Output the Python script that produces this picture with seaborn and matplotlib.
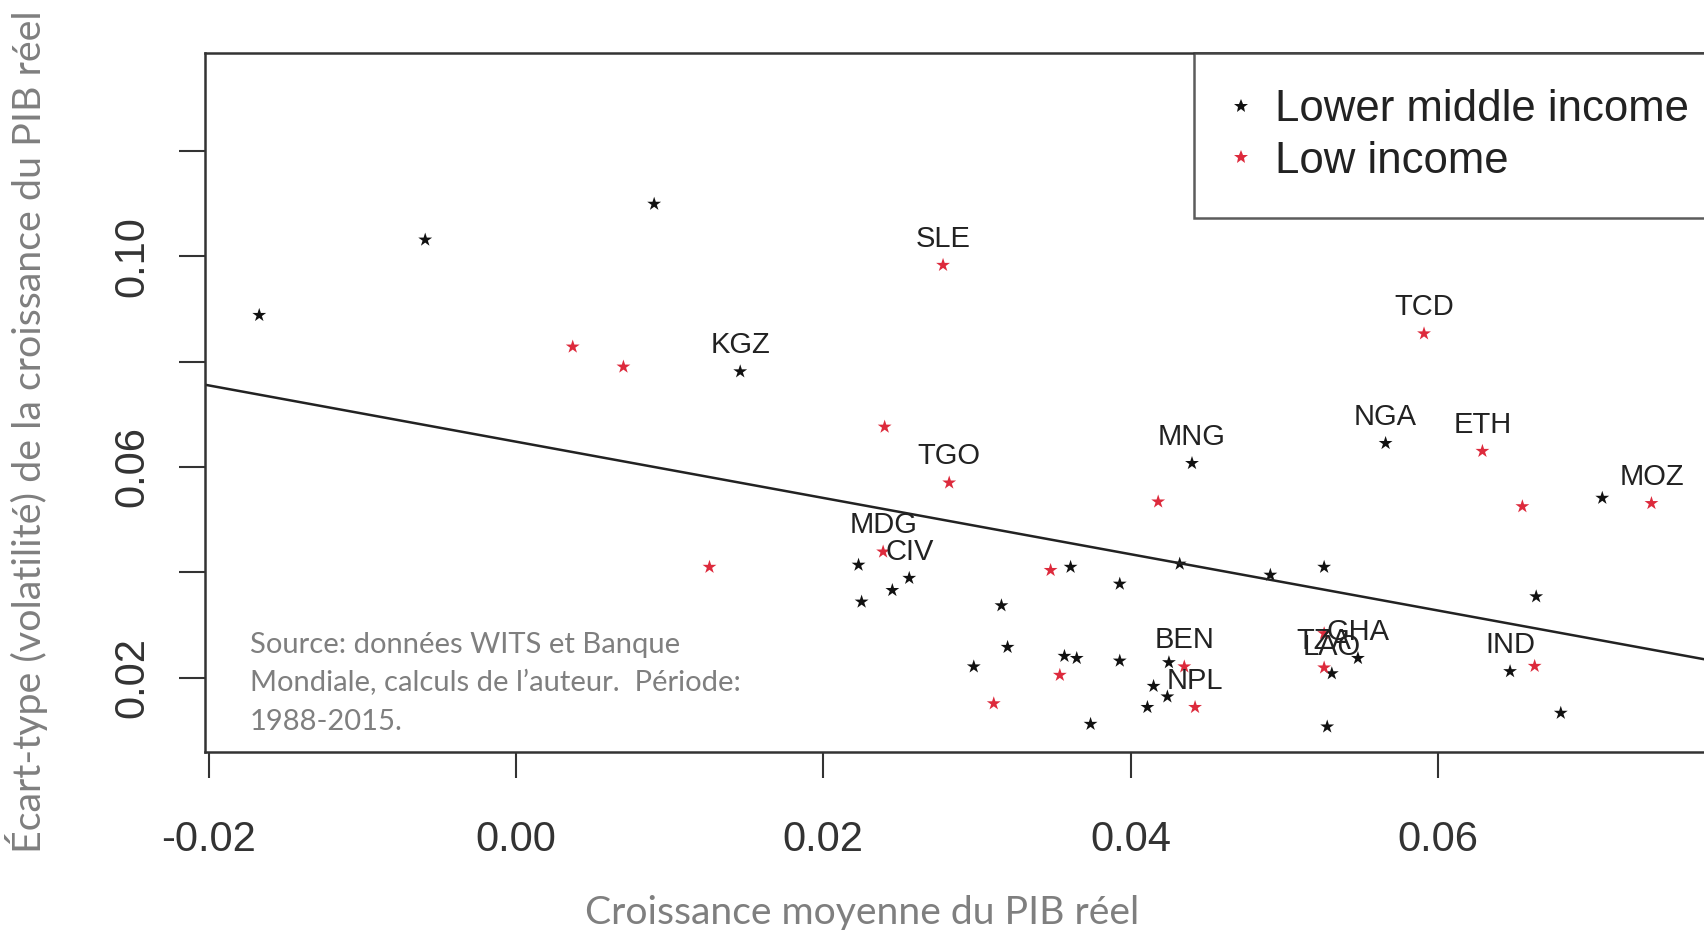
import numpy as np
import pandas as pd
import seaborn as sns
import matplotlib.pyplot as plt
from matplotlib.lines import Line2D

# pays "Lower middle income" (étoiles noires)
lmi_x = [-0.0167, -0.0059, 0.0090, 0.0146, 0.0223, 0.0225, 0.0245, 0.0256, 0.0316, 0.0298,
         0.0320, 0.0361, 0.0357, 0.0365, 0.0374, 0.0393, 0.0393, 0.0432, 0.0440, 0.0425,
         0.0415, 0.0424, 0.0411, 0.0491, 0.0526, 0.0528, 0.0531, 0.0548, 0.0566, 0.0647,
         0.0664, 0.0680, 0.0707]
lmi_y = [0.0888, 0.1031, 0.1099, 0.0781, 0.0414, 0.0344, 0.0366, 0.0389, 0.0337, 0.0221,
         0.0258, 0.0410, 0.0241, 0.0237, 0.0112, 0.0378, 0.0232, 0.0416, 0.0607, 0.0229,
         0.0184, 0.0164, 0.0144, 0.0395, 0.0410, 0.0107, 0.0208, 0.0237, 0.0645, 0.0212,
         0.0354, 0.0133, 0.0541]
lmi_code = ['', '', '', 'KGZ', '', '', '', 'CIV', '', '',
            '', '', '', '', '', '', '', '', 'MNG', '',
            '', '', '', '', '', '', 'LAO', 'GHA', 'NGA', 'IND',
            '', '', '']

# pays "Low income" (étoiles rouges)
low_x = [0.0037, 0.0070, 0.0126, 0.0278, 0.0240, 0.0282, 0.0239, 0.0311, 0.0348, 0.0354,
         0.0418, 0.0435, 0.0442, 0.0526, 0.0526, 0.0591, 0.0629, 0.0655, 0.0663, 0.0739]
low_y = [0.0828, 0.0790, 0.0410, 0.0983, 0.0676, 0.0570, 0.0439, 0.0151, 0.0404, 0.0205,
         0.0534, 0.0221, 0.0144, 0.0284, 0.0219, 0.0853, 0.0630, 0.0525, 0.0222, 0.0531]
low_code = ['', '', '', 'SLE', '', 'TGO', 'MDG', '', '', '',
            '', 'BEN', 'NPL', '', 'TZA', 'TCD', 'ETH', '', '', 'MOZ']

# droite de régression
reg_intercept = 0.0648
reg_slope = -0.534

groups = ['Lower middle income', 'Low income']
colors = ['#111111', '#dd2a3c']
x_ticks = [-0.02, 0.00, 0.02, 0.04, 0.06]
y_ticks = [0.02, 0.04, 0.06, 0.08, 0.10, 0.12]
y_ticklabels = ['0.02', '', '0.06', '', '0.10', '']

df = pd.DataFrame({
    'x': lmi_x + low_x,
    'y': lmi_y + low_y,
    'code': lmi_code + low_code,
    'groupe': [groups[0]] * len(lmi_x) + [groups[1]] * len(low_x),
})

sns.set_style('ticks')
plt.rcParams['font.family'] = ['Liberation Sans', 'DejaVu Sans']

fig = plt.figure(figsize=(17.04, 9.30), dpi=100)
ax = fig.add_axes([205 / 1704, 178.3 / 930, 1501 / 1704, 698.4 / 930])

sns.scatterplot(data=df, x='x', y='y', hue='groupe', hue_order=groups,
                palette=dict(zip(groups, colors)), marker='*', s=110,
                linewidth=0, legend=False, ax=ax)

# étiquettes des pays au-dessus des points
for _, r in df[df['code'] != ''].iterrows():
    ax.annotate(r['code'], (r['x'], r['y']), xytext=(0, 19), textcoords='offset points',
                ha='center', va='center', fontsize=21, color='#222222')

ax.axline((0, reg_intercept), slope=reg_slope, color='#222222', lw=1.8)

ax.set_xlim(-0.02023, 0.07745)
ax.set_ylim(0.00596, 0.1385)
ax.set_xticks(x_ticks)
ax.set_xticklabels([f'{v:.2f}' for v in x_ticks])
ax.set_yticks(y_ticks)
ax.set_yticklabels(y_ticklabels, rotation=90, va='center')
ax.tick_params(axis='both', direction='out', length=19, width=1.5, color='#333333',
               labelsize=30, labelcolor='#333333')
ax.tick_params(axis='x', pad=30)
ax.tick_params(axis='y', pad=19)
ax.set_xlabel('')
ax.set_ylabel('')
for s in ax.spines.values():
    s.set_linewidth(1.8)
    s.set_color('#333333')

handles = [Line2D([], [], marker='*', linestyle='none', markersize=10.5,
                  markerfacecolor=c, markeredgewidth=0) for c in colors]
leg = ax.legend(handles, groups, loc='upper left', bbox_to_anchor=(0.659, 0, 0.341, 1.0),
                mode='expand', borderaxespad=0, frameon=True, fancybox=False,
                edgecolor='#333333', fontsize=31.5, borderpad=0.82, labelspacing=0.24,
                handlelength=0.5, handletextpad=0.52)
leg.get_frame().set_linewidth(1.8)
for t in leg.get_texts():
    t.set_color('#222222')

gray = '#7f7f7f'
fig.text(862 / 1704, 1 - 913 / 930, 'Croissance moyenne du PIB réel', ha='center', va='center',
         fontsize=28.2, color=gray, family=['Lato', 'DejaVu Sans'])
fig.text(27 / 1704, 1 - 432 / 930, 'Écart-type (volatilité) de la croissance du PIB réel',
         rotation=90, ha='center', va='center', fontsize=28.4, color=gray,
         family=['Lato', 'DejaVu Sans'])

source_lines = ['Source: données WITS et Banque',
                'Mondiale, calculs de l’auteur.  Période:',
                '1988-2015.']
for i, line in enumerate(source_lines):
    fig.text(250 / 1704, 1 - (644.5 + 38.5 * i) / 930, line, ha='left', va='center',
             fontsize=21, color=gray, family=['Lato', 'DejaVu Sans'])

fig.savefig('out.png', dpi=100)
